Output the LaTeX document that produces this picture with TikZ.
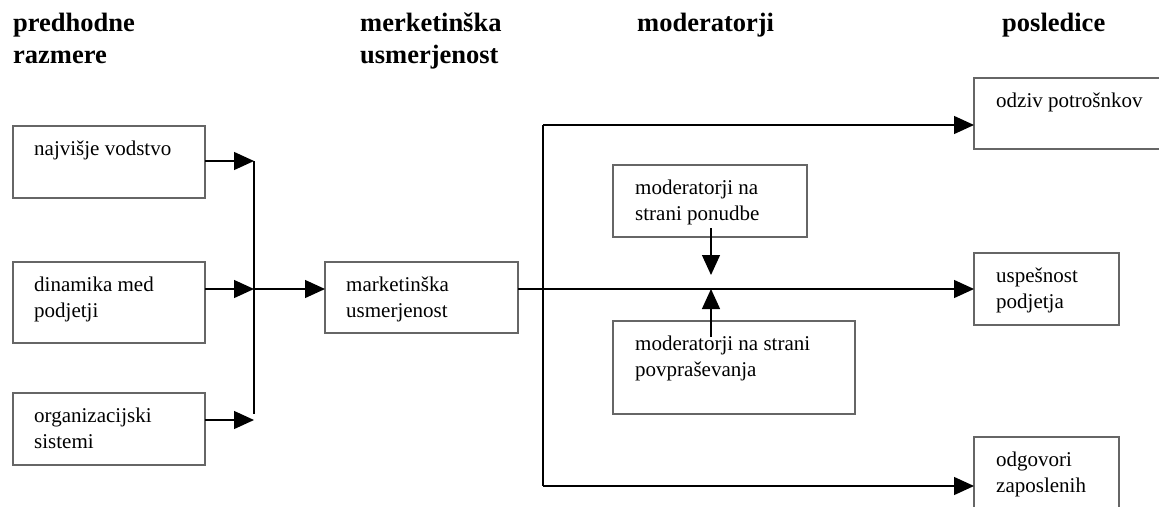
\documentclass[tikz,border=0pt]{standalone}
\usepackage{fontspec}
\setmainfont{Liberation Serif}
\usetikzlibrary{arrows.meta}

\begin{document}
\begin{tikzpicture}[x=1pt, y=-1pt,
  okvir/.style={draw=black!60, line width=1.6pt, anchor=north west, inner sep=0pt, outer sep=0pt},
  tekst/.style={anchor=north west, inner sep=0pt, align=left, font=\fontsize{21}{26}\selectfont},
  glava/.style={anchor=north west, inner sep=0pt, align=left, font=\bfseries\fontsize{26.5}{32}\selectfont},
  crta/.style={line width=1.3pt},
  puscica/.style={line width=1.3pt, -{Triangle[length=20pt,width=18pt]}}]
\clip (0,0) rectangle (1159,506);
% headers
\node[glava] (h0) at (13,8.6) {\strut predhodne\\razmere};
\node[glava] (h1) at (360,8.6) {\strut merketinška\\usmerjenost};
\node[glava] (h2) at (637,8.6) {\strut moderatorji};
\node[glava] (h3) at (1002,8.6) {\strut posledice};
% boxes
\node[okvir, minimum width=192pt, minimum height=72pt] (box0) at (13,126) {};
\node[okvir, minimum width=192pt, minimum height=81pt] (box1) at (13,262) {};
\node[okvir, minimum width=192pt, minimum height=72pt] (box2) at (13,393) {};
\node[okvir, minimum width=193pt, minimum height=71pt] (box3) at (325,262) {};
\node[okvir, minimum width=194pt, minimum height=72pt] (box4) at (613,165) {};
\node[okvir, minimum width=242pt, minimum height=93pt] (box5) at (613,321) {};
\node[okvir, minimum width=201pt, minimum height=71pt] (box6) at (974,78) {};
\node[okvir, minimum width=145pt, minimum height=72pt] (box7) at (974,253) {};
\node[okvir, minimum width=145pt, minimum height=80pt] (box8) at (974,437) {};
% texts
\node[tekst] (txt0) at ([shift={(21pt,-11.3pt)}]box0.north west) {\strut najvišje vodstvo};
\node[tekst] (txt1) at ([shift={(21pt,-11.3pt)}]box1.north west) {\strut dinamika med\\podjetji};
\node[tekst] (txt2) at ([shift={(21pt,-11.3pt)}]box2.north west) {\strut organizacijski\\sistemi};
\node[tekst] (txt3) at ([shift={(21pt,-11.3pt)}]box3.north west) {\strut marketinška\\usmerjenost};
\node[tekst] (txt4) at ([shift={(22pt,-11.3pt)}]box4.north west) {\strut moderatorji na\\strani ponudbe};
\node[tekst] (txt5) at ([shift={(22pt,-11.3pt)}]box5.north west) {\strut moderatorji na strani\\povpraševanja};
\node[tekst] (txt6) at ([shift={(22pt,-11.3pt)}]box6.north west) {\strut odziv potrošnkov};
\node[tekst] (txt7) at ([shift={(22pt,-11.3pt)}]box7.north west) {\strut uspešnost\\podjetja};
\node[tekst] (txt8) at ([shift={(22pt,-11.3pt)}]box8.north west) {\strut odgovori\\zaposlenih};
% junctions
\coordinate (s0) at (254,161);
\coordinate (s1) at (254,289);
\coordinate (s2) at (254,420);
\coordinate (s3) at (254,414);
\coordinate (r0) at (543,125);
\coordinate (r1) at (543,289);
\coordinate (r2) at (543,486);
\coordinate (m0) at (711,275);
% connectors
\draw[puscica] (box0.east |- s0) -- (s0);
\draw[puscica] (box1.east |- s1) -- (s1);
\draw[puscica] (box2.east |- s2) -- (s2);
\draw[crta] (s0) -- (s3);
\draw[puscica] (s1) -- (box3.west |- s1);
\draw[puscica] (box3.east |- r1) -- (box7.west |- r1);
\draw[crta] (r0) -- (r2);
\draw[puscica] (r0) -- (box6.west |- r0);
\draw[puscica] (r2) -- (box8.west |- r2);
\draw[puscica] ([yshift=9pt]box4.south -| m0) -- (m0);
\draw[puscica] ([yshift=-16pt]box5.north -| m0) -- (r1 -| m0);
\end{tikzpicture}
\end{document}
